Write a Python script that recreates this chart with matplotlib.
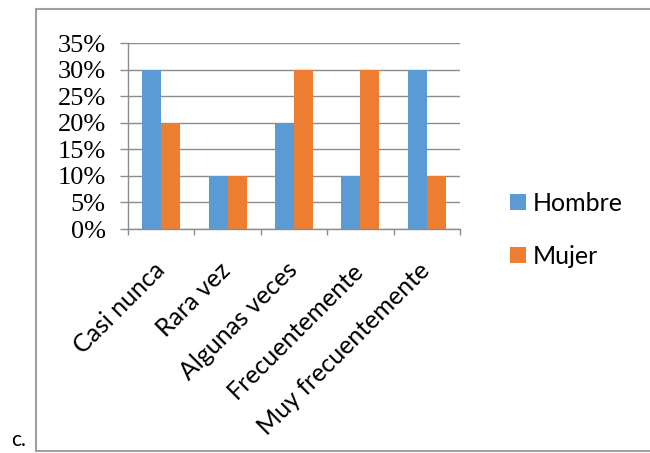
import matplotlib
matplotlib.use("Agg")
import matplotlib.pyplot as plt
from matplotlib.lines import Line2D
from matplotlib.ticker import FuncFormatter
import numpy as np

categories = ["Casi nunca", "Rara vez", "Algunas veces", "Frecuentemente", "Muy frecuentemente"]
hombre = [30, 10, 20, 10, 30]
mujer = [20, 10, 30, 30, 10]
series_names = ["Hombre", "Mujer"]
y_ticks = [0, 5, 10, 15, 20, 25, 30, 35]

BLUE = "#5B9BD5"
ORANGE = "#ED7D31"
GRID = "#8C8C8C"
SANS = "Lato"
SERIF = "Liberation Serif"

fig = plt.figure(figsize=(6.5, 4.53), dpi=100)
ax = fig.add_axes([128/650, (453-229)/453, (460-128)/650, (229-43)/453])

x = np.arange(len(categories))
w = 19/66.4
ax.bar(x - w/2, hombre, w, color=BLUE, label=series_names[0], zorder=3)
ax.bar(x + w/2, mujer, w, color=ORANGE, label=series_names[1], zorder=3)

ax.set_xlim(-0.5, len(categories) - 0.5)
ax.set_ylim(0, 35)
ax.set_yticks(y_ticks)
ax.yaxis.set_major_formatter(FuncFormatter(lambda v, p: f"{int(v)}%"))
ax.grid(axis="y", color=GRID, linewidth=1.0, zorder=0)
ax.set_axisbelow(True)

for s in ["top", "right"]:
    ax.spines[s].set_visible(False)
for s in ["left", "bottom"]:
    ax.spines[s].set_color(GRID)
    ax.spines[s].set_linewidth(1.0)
    ax.spines[s].set_zorder(4)

ax.tick_params(axis="y", direction="out", length=6, width=1.0, color=GRID, pad=10)
for lbl in ax.get_yticklabels():
    lbl.set_fontfamily(SERIF)
    lbl.set_fontsize(19)
    lbl.set_color("black")

ax.set_xticks(x - 0.13)
ax.set_xticklabels(categories, rotation=45, ha="right", rotation_mode="anchor",
                   fontfamily=SANS, fontsize=18)
ax.tick_params(axis="x", which="major", length=0, pad=21)
ax.set_xticks(np.arange(-0.5, len(categories)), minor=True)
ax.tick_params(axis="x", which="minor", direction="out", length=4, width=1.0, color=GRID)

leg = fig.legend(loc="center left", bbox_to_anchor=(510/650, (453-230)/453),
                 frameon=False, borderpad=0, borderaxespad=0,
                 handlelength=0.62, handleheight=0.62, handletextpad=0.28,
                 labelspacing=1.2, prop={"family": SANS, "size": 18})

# outer border
bc = "#A0A0A0"
x0, x1 = 36/650, 1.0
y0, y1 = (453-451)/453, (453-9)/453
fig.add_artist(Line2D([x0, x0], [y0, y1], color=bc, lw=1.5, transform=fig.transFigure))
fig.add_artist(Line2D([x0, x1], [y1, y1], color=bc, lw=1.5, transform=fig.transFigure))
fig.add_artist(Line2D([x0, x1], [y0, y0], color=bc, lw=1.5, transform=fig.transFigure))

fig.text(11/650, (453-446)/453, "c.", fontfamily=SANS, fontsize=15, color="black")

fig.savefig("out.png", dpi=100)
